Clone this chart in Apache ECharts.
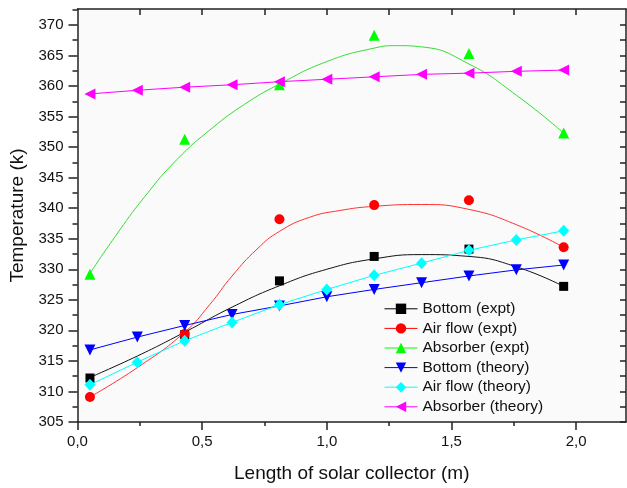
<!DOCTYPE html>
<html>
<head>
<meta charset="utf-8">
<script src="https://cdn.jsdelivr.net/npm/echarts@6/dist/echarts.min.js"></script>
<style>
html,body{margin:0;padding:0;background:#ffffff;}
#chart{width:627px;height:488px;}
</style>
</head>
<body>
<div id="chart"></div>
<script>
// ---- data ----
const xExpt = [0.05, 0.43, 0.81, 1.19, 1.57, 1.95];
const xTheory = [0.05, 0.24, 0.43, 0.62, 0.81, 1.00, 1.19, 1.38, 1.57, 1.76, 1.95];

const bottomExpt   = [312.2, 319.3, 328.1, 332.1, 333.3, 327.2];
const airExpt      = [309.1, 319.4, 338.2, 340.5, 341.3, 333.6];
const absorberExpt = [329.2, 351.3, 360.2, 368.3, 365.3, 352.3];

const bottomTheory   = [316.8, 318.9, 320.8, 322.6, 324.0, 325.5, 326.7, 327.8, 328.9, 329.9, 330.7];
const airTheory      = [311.1, 314.8, 318.3, 321.3, 324.2, 326.7, 329.0, 331.0, 333.1, 334.8, 336.3];
const absorberTheory = [358.7, 359.3, 359.8, 360.2, 360.7, 361.1, 361.5, 361.9, 362.1, 362.4, 362.6];

// fitted curves
const bottomFitX = [0.05, 0.24, 0.43, 0.62, 0.81, 1.00, 1.19, 1.38, 1.57, 1.76, 1.95];
const bottomFitY = [312.3, 315.8, 319.7, 323.8, 327.3, 330.0, 331.7, 332.4, 332.1, 330.4, 327.2];
const airFitX = [0.05, 0.24, 0.43, 0.53, 0.62, 0.72, 0.81, 0.93, 1.05, 1.19, 1.38, 1.57, 1.76, 1.95];
const airFitY = [309.1, 313.9, 319.7, 324.2, 328.9, 333.3, 336.2, 338.5, 339.6, 340.3, 340.6, 339.8, 337.3, 333.6];
const absFitX = [0.05, 0.15, 0.27, 0.40, 0.54, 0.67, 0.80, 1.00, 1.19, 1.28, 1.38, 1.57, 1.76, 1.95];
const absFitY = [329.3, 335.3, 341.9, 348.0, 353.1, 357.0, 360.1, 364.0, 366.2, 366.6, 366.4, 363.6, 358.5, 352.3];

// axis ticks
const xMajor = [0, 0.5, 1.0, 1.5, 2.0];
const xMinor = [0.25, 0.75, 1.25, 1.75];
const xTop = [0.25, 0.5, 0.75, 1.0, 1.25, 1.5, 1.75, 2.0];
const yMajor = [305, 310, 315, 320, 325, 330, 335, 340, 345, 350, 355, 360, 365, 370];
const yMinor = [307.5, 312.5, 317.5, 322.5, 327.5, 332.5, 337.5, 342.5, 347.5, 352.5, 357.5, 362.5, 367.5, 372.5];
const yRight = [305, 307.5, 310, 312.5, 315, 317.5, 320, 322.5, 325, 327.5, 330, 332.5, 335, 337.5, 340, 342.5, 345, 347.5, 350, 352.5, 355, 357.5, 360, 362.5, 365, 367.5, 370];

const names = ['Bottom (expt)', 'Air flow (expt)', 'Absorber (expt)', 'Bottom (theory)', 'Air flow (theory)', 'Absorber (theory)'];
const colors = ['#000000', '#ff0000', '#00ff00', '#0000ff', '#00ffff', '#ff00ff'];

// ---- build ----
const FONT = 'Arial, "Liberation Sans", sans-serif';
const TXT = '#111111';
const AX = '#222222';
const X_MIN = 0, X_MAX = 2.2, Y_MIN = 305, Y_MAX = 372.6;

function pairs(xs, ys) { return xs.map((x, i) => [x, ys[i]]); }

function xAx(extra) {
  return Object.assign({
    type: 'value', min: X_MIN, max: X_MAX, gridIndex: 0,
    splitLine: { show: false }
  }, extra);
}
function yAx(extra) {
  return Object.assign({
    type: 'value', min: Y_MIN, max: Y_MAX, gridIndex: 0,
    splitLine: { show: false }
  }, extra);
}

const fitLine = (data, color) => ({
  type: 'line', data, smooth: 0.5, symbol: 'none', silent: true,
  lineStyle: { color, width: 1 }, z: 1, legendHoverLink: false
});
const markers = (name, data, color, symbol, size, rot) => ({
  name, type: 'line', data, symbol, symbolSize: size, symbolRotate: rot || 0,
  showSymbol: true, silent: true,
  itemStyle: { color, opacity: 1 },
  lineStyle: { width: 0, opacity: 0, color }, z: 3
});
const theory = (name, data, color, symbol, size, rot) => ({
  name, type: 'line', data, symbol, symbolSize: size, symbolRotate: rot || 0,
  showSymbol: true, silent: true,
  itemStyle: { color, opacity: 1 },
  lineStyle: { width: 1, color }, z: 3
});

const option = {
  animation: false,
  backgroundColor: '#ffffff',
  textStyle: { fontFamily: FONT },
  grid: { left: 77.5, right: 1, top: 9, bottom: 66, show: true, backgroundColor: '#fafafa', borderWidth: 0 },
  xAxis: [
    xAx({
      position: 'bottom',
      name: 'Length of solar collector (m)', nameLocation: 'middle', nameGap: 42,
      nameTextStyle: { fontSize: 19, color: TXT, fontFamily: FONT },
      axisLine: { show: true, onZero: false, lineStyle: { color: AX, width: 1.5 } },
      axisTick: { show: true, inside: false, length: 8, customValues: xMajor, lineStyle: { color: AX, width: 1.5 } },
      axisLabel: { show: true, margin: 12, customValues: xMajor, fontSize: 15, color: TXT, fontFamily: FONT,
        formatter: v => v.toFixed(1).replace('.', ',') }
    }),
    xAx({
      position: 'bottom',
      axisLine: { show: false, onZero: false },
      axisTick: { show: true, inside: false, length: 4, customValues: xMinor, lineStyle: { color: AX, width: 1.5 } },
      axisLabel: { show: false }
    }),
    xAx({
      position: 'top',
      axisLine: { show: true, onZero: false, lineStyle: { color: AX, width: 1.5 } },
      axisTick: { show: true, inside: true, length: 6, customValues: xTop, lineStyle: { color: AX, width: 1.5 } },
      axisLabel: { show: false }
    })
  ],
  yAxis: [
    yAx({
      position: 'left',
      name: 'Temperature (k)', nameLocation: 'middle', nameGap: 50, nameRotate: 90,
      nameTextStyle: { fontSize: 19, color: TXT, fontFamily: FONT },
      axisLine: { show: true, onZero: false, lineStyle: { color: AX, width: 1.5 } },
      axisTick: { show: true, inside: false, length: 9, customValues: yMajor, lineStyle: { color: AX, width: 1.5 } },
      axisLabel: { show: true, margin: 14, customValues: yMajor, fontSize: 15, color: TXT, fontFamily: FONT }
    }),
    yAx({
      position: 'left',
      axisLine: { show: false, onZero: false },
      axisTick: { show: true, inside: false, length: 5, customValues: yMinor, lineStyle: { color: AX, width: 1.5 } },
      axisLabel: { show: false }
    }),
    yAx({
      position: 'right',
      axisLine: { show: true, onZero: false, lineStyle: { color: AX, width: 1.5 } },
      axisTick: { show: true, inside: true, length: 6, customValues: yRight, lineStyle: { color: AX, width: 1.5 } },
      axisLabel: { show: false }
    })
  ],
  legend: {
    left: 379, top: 294, orient: 'vertical',
    itemWidth: 33, itemHeight: 13, itemGap: 0,
    selectedMode: false,
    textStyle: { fontSize: 15.5, color: TXT, fontFamily: FONT, lineHeight: 19.6 },
    data: names.map((n, i) => ({ name: n, lineStyle: { width: 1, opacity: 1, color: colors[i] }, itemStyle: { color: colors[i], opacity: 1 } }))
  },
  series: [
    fitLine(pairs(bottomFitX, bottomFitY), '#111111'),
    fitLine(pairs(airFitX, airFitY), '#ff3333'),
    fitLine(pairs(absFitX, absFitY), '#33dd33'),
    markers(names[0], pairs(xExpt, bottomExpt), colors[0], 'rect', 9),
    markers(names[1], pairs(xExpt, airExpt), colors[1], 'circle', 10),
    markers(names[2], pairs(xExpt, absorberExpt), colors[2], 'triangle', 11),
    theory(names[3], pairs(xTheory, bottomTheory), colors[3], 'triangle', 11, 180),
    theory(names[4], pairs(xTheory, airTheory), colors[4], 'diamond', [11, 12]),
    theory(names[5], pairs(xTheory, absorberTheory), colors[5], 'triangle', 11, 90)
  ]
};

const chart = echarts.init(document.getElementById('chart'), null, { renderer: 'canvas' });
chart.setOption(option);
</script>
</body>
</html>
